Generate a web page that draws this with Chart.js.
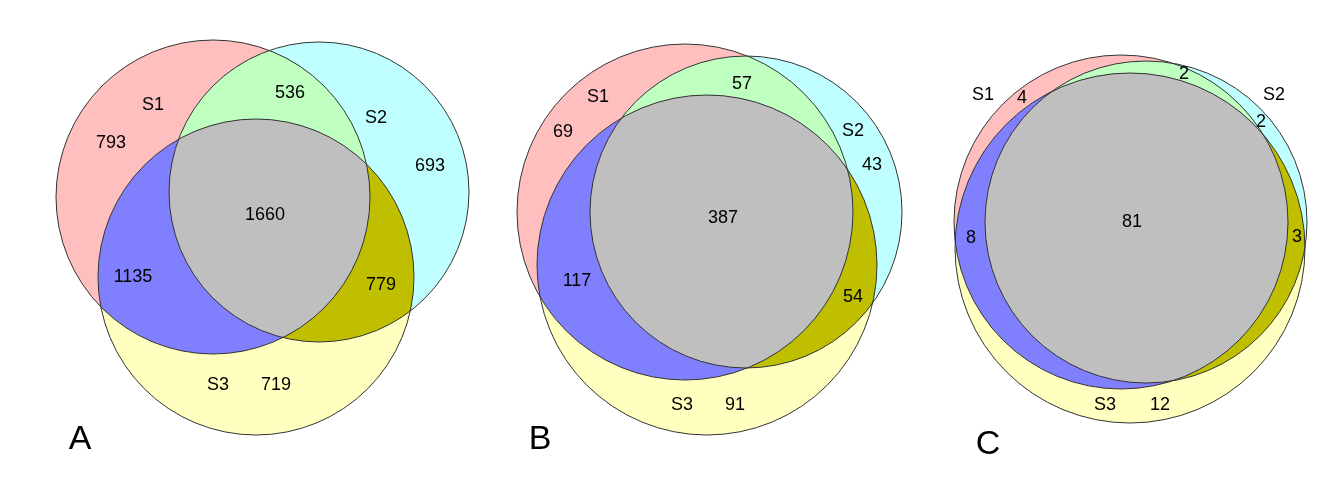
<!DOCTYPE html>
<html>
<head>
<meta charset="utf-8">
<script src="https://cdn.jsdelivr.net/npm/chart.js@4"></script>
<style>
  html, body { margin: 0; padding: 0; background: #fff; }
  #wrap { width: 1328px; height: 478px; }
</style>
</head>
<body>
<div id="wrap"><canvas id="venn"></canvas></div>
<script>
// circle geometry per panel: [S1, S2, S3] as centre x, centre y, radius
const panelNames = ['A', 'B', 'C'];
const circlesA = [[213, 197, 157], [319, 192, 150], [256, 277, 158]];
const circlesB = [[685, 212, 168], [746, 212, 156], [707, 265, 170]];
const circlesC = [[1121, 222, 167], [1146, 222, 161], [1130, 248, 175]];

// region counts and where they sit
const labelsA = [['S1', 153, 105], ['793', 111, 143], ['536', 290, 93], ['S2', 376, 118], ['693', 430, 166],
  ['1660', 265, 215], ['1135', 133, 277], ['779', 381, 285], ['S3', 218, 385], ['719', 276, 385]];
const labelsB = [['S1', 598, 97], ['69', 563, 132], ['57', 742, 84], ['S2', 853, 131], ['43', 872, 165],
  ['387', 723, 218], ['117', 577, 281], ['54', 853, 297], ['S3', 682, 405], ['91', 735, 405]];
const labelsC = [['S1', 983, 95], ['4', 1022, 98], ['2', 1184, 74], ['S2', 1274, 95], ['2', 1261, 122],
  ['81', 1132, 222], ['8', 971, 238], ['3', 1297, 237], ['S3', 1105, 405], ['12', 1160, 405]];
const letterPos = [[80, 440], [540, 440], [988, 445]];

const setColors = ['#ffbfbf', '#bfffff', '#ffffbf'];
const pairColors = { '01': '#bfffbf', '02': '#8080ff', '12': '#bfbf00' };
const tripleColor = '#bfbfbf';

const allCircles = [circlesA, circlesB, circlesC];
const allLabels = [labelsA, labelsB, labelsC];

const vennPlugin = {
  id: 'venn',
  afterDatasetsDraw(chart) {
    const ctx = chart.ctx;
    const xs = chart.scales.x, ys = chart.scales.y;
    const path = (c) => {
      const px = xs.getPixelForValue(c[0]), py = ys.getPixelForValue(c[1]);
      const r = xs.getPixelForValue(c[0] + c[2]) - px;
      ctx.beginPath();
      ctx.arc(px, py, r, 0, Math.PI * 2);
    };
    allCircles.forEach(cs => {
      cs.forEach((c, i) => { path(c); ctx.fillStyle = setColors[i]; ctx.fill(); });
      Object.keys(pairColors).forEach(k => {
        ctx.save();
        path(cs[+k[0]]); ctx.clip();
        path(cs[+k[1]]); ctx.fillStyle = pairColors[k]; ctx.fill();
        ctx.restore();
      });
      ctx.save();
      path(cs[0]); ctx.clip();
      path(cs[1]); ctx.clip();
      path(cs[2]); ctx.fillStyle = tripleColor; ctx.fill();
      ctx.restore();
      cs.forEach(c => { path(c); ctx.strokeStyle = '#333'; ctx.lineWidth = 1; ctx.stroke(); });
    });
    ctx.fillStyle = '#000';
    ctx.textAlign = 'center';
    ctx.textBaseline = 'middle';
    ctx.font = '18px "Liberation Sans", Arial, sans-serif';
    allLabels.forEach(ls => ls.forEach(l => {
      ctx.fillText(l[0], xs.getPixelForValue(l[1]), ys.getPixelForValue(l[2]));
    }));
    ctx.font = '34px "Liberation Sans", Arial, sans-serif';
    panelNames.forEach((n, i) => {
      ctx.fillText(n, xs.getPixelForValue(letterPos[i][0]), ys.getPixelForValue(letterPos[i][1]));
    });
  }
};

new Chart(document.getElementById('venn'), {
  type: 'scatter',
  data: { datasets: [{ data: [], pointRadius: 0 }] },
  options: {
    responsive: true,
    maintainAspectRatio: false,
    animation: false,
    layout: { padding: 0 },
    plugins: { legend: { display: false }, tooltip: { enabled: false } },
    scales: {
      x: { type: 'linear', min: 0, max: 1328, display: false },
      y: { type: 'linear', min: 0, max: 478, reverse: true, display: false }
    }
  },
  plugins: [vennPlugin]
});
</script>
</body>
</html>
